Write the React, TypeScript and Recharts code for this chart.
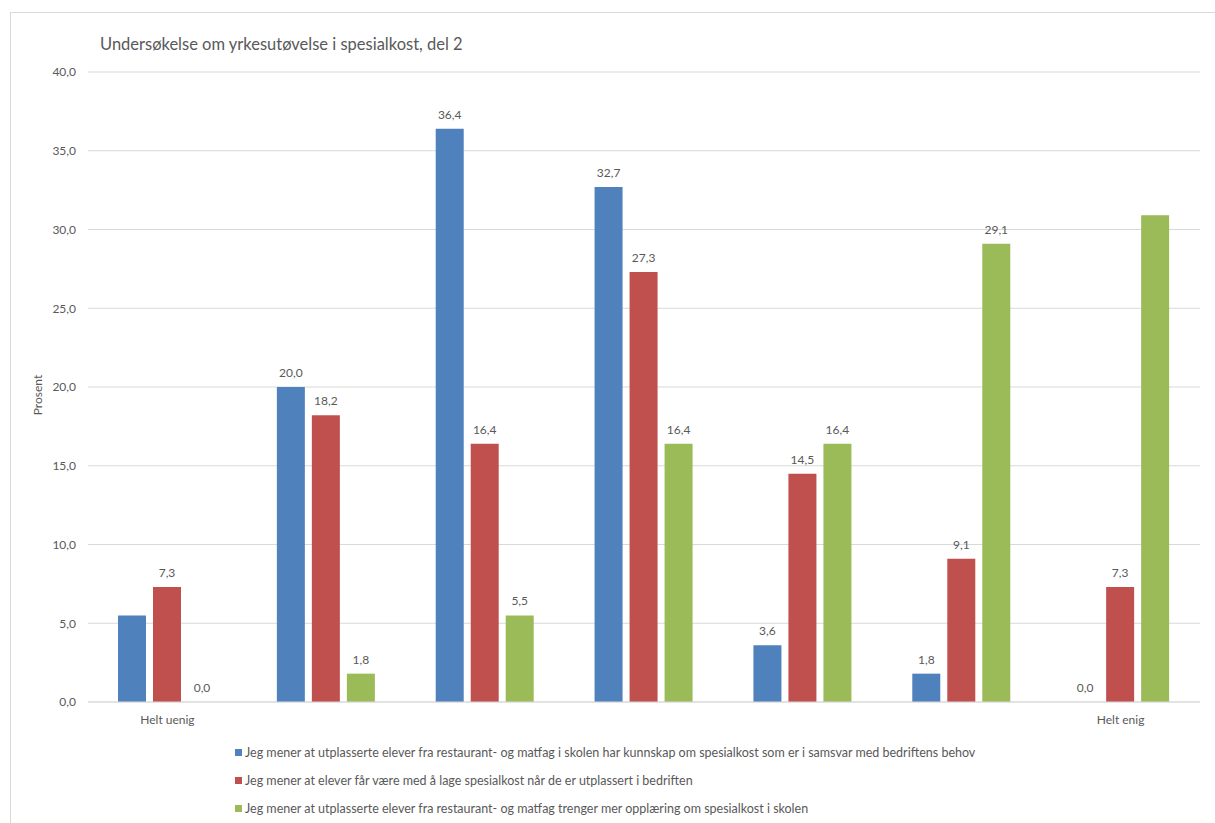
import { BarChart, Bar, XAxis, YAxis, CartesianGrid, LabelList } from 'recharts'

const categories = ['Helt uenig', '2', '3', '4', '5', '6', 'Helt enig']
const tickLabels = ['Helt uenig', '', '', '', '', '', 'Helt enig']
const kunnskap = [5.5, 20.0, 36.4, 32.7, 3.6, 1.8, 0.0]
const faarVaere = [7.3, 18.2, 16.4, 27.3, 14.5, 9.1, 7.3]
const opplaering = [0.0, 1.8, 5.5, 16.4, 16.4, 29.1, 30.9]
const yTicks = [0, 5, 10, 15, 20, 25, 30, 35, 40]

const seriesNames = [
  'Jeg mener at utplasserte elever fra restaurant- og matfag i skolen har kunnskap om spesialkost som er i samsvar med bedriftens behov',
  'Jeg mener at elever får være med å lage spesialkost når de er utplassert i bedriften',
  'Jeg mener at utplasserte elever fra restaurant- og matfag trenger mer opplæring om spesialkost i skolen',
]
const colors = ['#4f81bd', '#c0504d', '#9bbb59']
const keys = ['kunnskap', 'faarVaere', 'opplaering']
// bars whose value label is left off
const hiddenLabels: Record<string, number[]> = { kunnskap: [0], faarVaere: [], opplaering: [6] }

const data = categories.map((c, i) => ({
  name: c,
  kunnskap: kunnskap[i],
  faarVaere: faarVaere[i],
  opplaering: opplaering[i],
}))

const FONT = 'Lato, "Liberation Sans", sans-serif'
const GREY = '#595959'
const fmt = (v: number) => v.toFixed(1).replace('.', ',')

function valueLabel(key: string) {
  return (props: any) => {
    const { x, y, width, value, index } = props
    if (hiddenLabels[key].includes(index)) return null
    return (
      <text x={x + width / 2} y={y - 10} textAnchor="middle" fill={GREY} fontSize={12} fontFamily={FONT}>
        {fmt(Number(value))}
      </text>
    )
  }
}

export default function App() {
  return (
    <div
      style={{
        position: 'fixed',
        left: 10,
        top: 12,
        width: 1205,
        height: 811,
        borderLeft: '1px solid #d9d9d9',
        borderTop: '1px solid #d9d9d9',
        background: '#fff',
        fontFamily: FONT,
      }}
    >
      <div style={{ position: 'absolute', left: 89, top: 21, fontSize: 16.5, color: GREY }}>
        Undersøkelse om yrkesutøvelse i spesialkost, del 2
      </div>
      <BarChart
        width={1204}
        height={810}
        data={data}
        margin={{ top: 59, right: 15, left: 20, bottom: 91 }}
        barCategoryGap={30}
        barGap={7}
      >
        <CartesianGrid stroke="#d9d9d9" vertical={false} />
        <XAxis
          dataKey="name"
          tickFormatter={(_v, i) => tickLabels[i]}
          interval={0}
          axisLine={{ stroke: '#d9d9d9' }}
          tickLine={false}
          tick={{ fill: GREY, fontSize: 12, fontFamily: FONT }}
          tickMargin={7}
          height={30}
        />
        <YAxis
          domain={[0, 40]}
          ticks={yTicks}
          tickFormatter={fmt}
          axisLine={false}
          tickLine={false}
          tickSize={0}
          tickMargin={12}
          width={57}
          tick={{ fill: GREY, fontSize: 12, fontFamily: FONT }}
          label={{
            value: 'Prosent',
            angle: -90,
            position: 'insideLeft',
            offset: 7,
            dy: 8,
            style: { fill: GREY, fontSize: 12, fontFamily: FONT, textAnchor: 'middle' },
          }}
        />
        {keys.map((k, i) => (
          <Bar
            key={k}
            dataKey={k}
            name={seriesNames[i]}
            fill={colors[i]}
            minPointSize={0.001}
            isAnimationActive={false}
          >
            <LabelList dataKey={k} content={valueLabel(k)} />
          </Bar>
        ))}
      </BarChart>
      <div style={{ position: 'absolute', left: 224, top: 725 }}>
        {seriesNames.map((n, i) => (
          <div key={n} style={{ display: 'flex', alignItems: 'center', height: 28, fontSize: 12.5, color: GREY }}>
            <span style={{ width: 7, height: 7, background: colors[i], marginRight: 3, display: 'inline-block' }} />
            {n}
          </div>
        ))}
      </div>
    </div>
  )
}
